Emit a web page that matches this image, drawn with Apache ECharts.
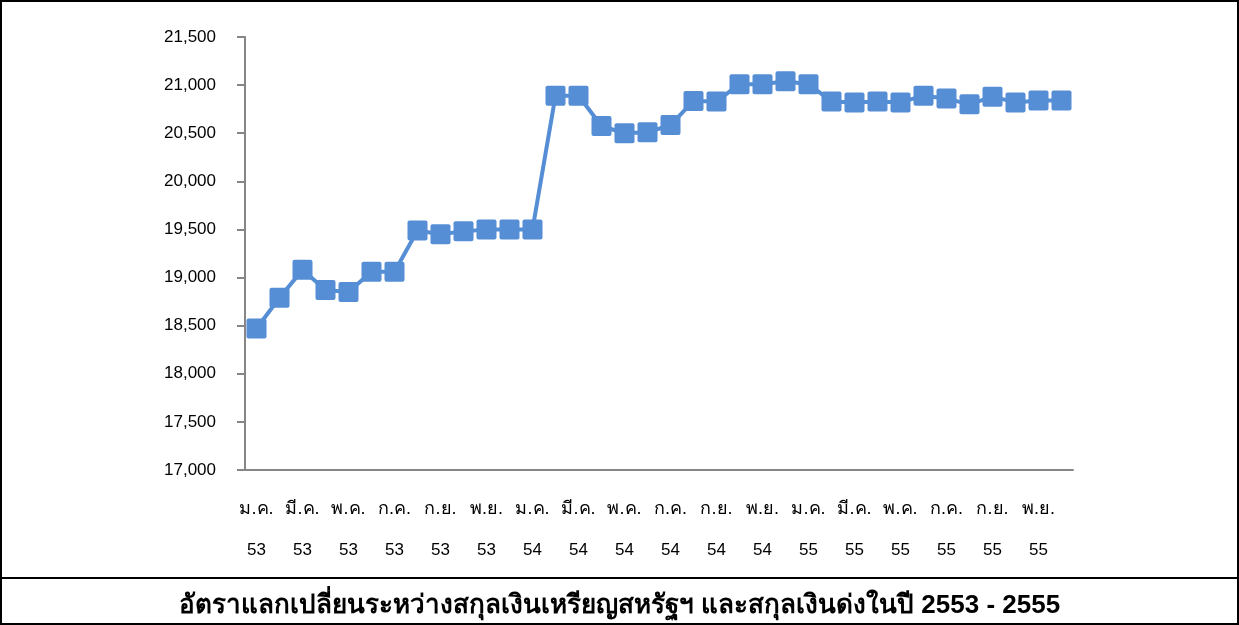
<!DOCTYPE html>
<html lang="th">
<head>
<meta charset="utf-8">
<title>อัตราแลกเปลี่ยน</title>
<script src="https://cdn.jsdelivr.net/npm/echarts@6/dist/echarts.min.js"></script>
<style>
  html, body { margin: 0; padding: 0; background: #fff; }
  #main { width: 1239px; height: 625px; }
</style>
</head>
<body>
<div id="main"></div>
<script>
// เดือน (ม.ค. 53 - ธ.ค. 55)
var monthNames = ['ม.ค.', 'ก.พ.', 'มี.ค.', 'เม.ย.', 'พ.ค.', 'มิ.ย.', 'ก.ค.', 'ส.ค.', 'ก.ย.', 'ต.ค.', 'พ.ย.', 'ธ.ค.'];
var years = ['53', '54', '55'];

// ค่าเงินด่งต่อ 1 ดอลลาร์สหรัฐ (อ่านจากภาพ)
var rates = [
  18470, 18790, 19080, 18870, 18850, 19060, 19060, 19490, 19450, 19480, 19500, 19500,
  19500, 20890, 20890, 20575, 20500, 20510, 20585, 20835, 20830, 21010, 21010, 21040,
  21010, 20830, 20820, 20830, 20820, 20890, 20860, 20800, 20880, 20820, 20840, 20840
];

var yMin = 17000, yMax = 21500, yStep = 500;

var categories = [];
years.forEach(function (y) {
  monthNames.forEach(function (m) { categories.push(m + '|' + y); });
});

var chart = echarts.init(document.getElementById('main'));
var option = {
  animation: false,
  grid: { left: 245, right: 166, top: 37, bottom: 155 },
  title: {
    text: 'อัตราแลกเปลี่ยนระหว่างสกุลเงินเหรียญสหรัฐฯ และสกุลเงินด่งในปี 2553 - 2555',
    left: 'center', top: 588,
    textStyle: { fontFamily: 'Liberation Sans Narrow, Liberation Sans, sans-serif', fontSize: 26, fontWeight: 'bold', color: '#000' }
  },
  xAxis: {
    type: 'category',
    data: categories,
    boundaryGap: true,
    axisLine: { lineStyle: { color: '#868686', width: 2 } },
    axisTick: { interval: 1, length: 8, lineStyle: { color: '#868686', width: 2 } },
    axisLabel: {
      interval: 1,
      hideOverlap: false,
      margin: 19,
      formatter: function (v) {
        var p = v.split('|');
        return '{m|' + p[0] + '}\n{y|' + p[1] + '}';
      },
      rich: {
        m: { fontSize: 18, lineHeight: 41, color: '#000', fontFamily: 'Liberation Sans, sans-serif' },
        y: { fontSize: 17, lineHeight: 41, color: '#000', fontFamily: 'Liberation Sans, sans-serif' }
      }
    }
  },
  yAxis: {
    type: 'value',
    min: yMin, max: yMax, interval: yStep,
    splitLine: { show: false },
    axisLine: { show: true, lineStyle: { color: '#868686', width: 2 } },
    axisTick: { show: true, length: 8, lineStyle: { color: '#868686', width: 2 } },
    axisLabel: {
      color: '#000',
      fontFamily: 'Liberation Sans, sans-serif',
      fontSize: 17,
      margin: 29,
      formatter: function (v) { return v.toLocaleString('en-US'); }
    }
  },
  graphic: [
    { type: 'rect', shape: { x: 1, y: 1, width: 1237, height: 623 }, style: { fill: 'none', stroke: '#000', lineWidth: 2 } },
    { type: 'line', shape: { x1: 0, y1: 578, x2: 1239, y2: 578 }, style: { stroke: '#000', lineWidth: 2 } }
  ],
  series: [{
    type: 'line',
    data: rates,
    showAllSymbol: true,
    symbol: 'path://M2,0H18Q20,0 20,2V18Q20,20 18,20H2Q0,20 0,18V2Q0,0 2,0Z',
    symbolSize: 20,
    lineStyle: { color: '#558ED5', width: 4 },
    itemStyle: { color: '#558ED5' }
  }]
};
chart.setOption(option);
</script>
</body>
</html>
